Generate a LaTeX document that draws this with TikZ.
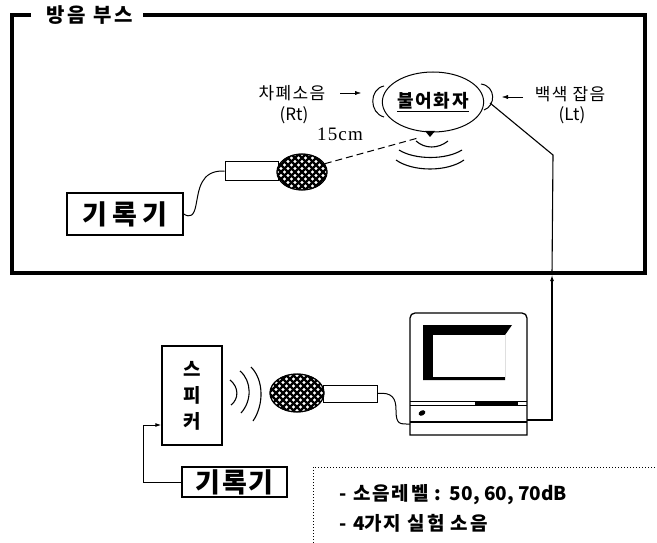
\documentclass[tikz,border=0pt]{standalone}
\usepackage{fontspec}
\newfontfamily\kr{Noto Sans CJK KR}
\newfontfamily\numfont{Liberation Serif}
\usetikzlibrary{arrows.meta,shapes.geometric}

% cross-hatched grille of a microphone head
\newcommand{\hatchmic}[3]{%
  \begin{scope}[shift={(#1.center)}]
    \clip (0,0) ellipse [x radius=#2, y radius=#3];
    \foreach \d in {-70,-63,...,70}{
      \draw[line width=2.3pt] (\d-30,-30) -- (\d+30,30);
      \draw[line width=2.3pt] (\d-30,30) -- (\d+30,-30);
    }
  \end{scope}}

\begin{document}
\begin{tikzpicture}[x=1pt,y=-1pt,
    booth/.style={line width=3.2pt},
    recbox/.style={draw, line width=1.4pt, inner sep=0pt,
      font=\kr\bfseries\fontsize{27}{27}\selectfont},
    lbl/.style={font=\kr\fontsize{17}{17}\selectfont},
    cond/.style={anchor=west, font=\kr\bfseries\fontsize{19}{19}\selectfont},
    handle/.style={draw, line width=1pt, inner sep=0pt},
    grille/.style={draw, ellipse, line width=1pt, inner sep=0pt},
    tip/.style={-{Latex[length=6pt,width=4pt]}},
    wave/.style={line width=1.1pt}]
  \useasboundingbox (0,0) rectangle (657,543);

  % Booth walls
  \draw[booth] (31,15) -- (12,15) -- (12,273) -- (645,273) -- (645,15) -- (143,15);
  \node[font=\kr\bfseries\fontsize{20}{20}\selectfont] (title) at (90,15)
    {\addfontfeatures{LetterSpace=14}방음 부스};

  % Speaker's head with ears
  \node[grille, minimum width=100, minimum height=60]
    (head) at (433,102) {\kr\bfseries\fontsize{18}{18}\selectfont\addfontfeatures{LetterSpace=10}\underline{불어화자}};
  \draw[line width=1pt] (384,86) .. controls (369,89) and (369,113) .. (384,117);
  \draw[line width=1pt] (481,84) .. controls (496,86) and (496,106) .. (484,110);
  \fill (425,131) -- (435,131) -- (430,137) -- cycle;
  \coordinate (mouth) at (418,138);

  % Voice waves
  \draw[wave] (416,141) .. controls (425,149) and (438,149) .. (448,141);
  \draw[wave] (399,150) .. controls (415,160) and (446,160) .. (462,150);
  \draw[wave] (396,160) .. controls (413,172) and (447,172) .. (464,160);

  % Noise labels
  \node[lbl] (rt) at (292,93) {\addfontfeatures{LetterSpace=8}차폐소음};
  \node[lbl] at (294,115) {(Rt)};
  \draw[tip] (340,93) -- (361,93);
  \node[lbl] (lt) at (570,94) {\addfontfeatures{LetterSpace=8}백색 잡음};
  \node[lbl] at (572,115) {(Lt)};
  \draw[tip] (523,97) -- (502,97);
  \node[font=\numfont\fontsize{19}{19}\selectfont] (dist) at (340,134)
    {\addfontfeatures{LetterSpace=6}15cm};

  % Microphone in the booth
  \node[handle, minimum width=53, minimum height=18] (hand1) at (251.5,171) {};
  \node[grille, fill=white, minimum width=50, minimum height=36] (mic1) at (302,172) {};
  \hatchmic{mic1}{25}{18}
  \draw[line width=1pt] (mic1) ellipse [x radius=25, y radius=18];
  \draw[line width=1pt, dashed, dash pattern=on 7pt off 4pt] (mic1.20) -- (mouth);

  % Recorder in the booth
  \node[recbox, minimum width=116, minimum height=42] (rec1) at (125,214)
    {\addfontfeatures{LetterSpace=20}기록기};
  \draw[line width=1pt] (hand1.west) .. controls (200,170) and (199,190) .. (196,205)
    .. controls (194,216) and (190,218) .. (rec1.east);

  % Computer
  \draw[line width=1.3pt] (410,435) [rounded corners=5pt] -- (410,313) -- (527,313)
    [sharp corners] -- (527,435) -- cycle;
  \fill (423,325) -- (512,325) -- (505,335) -- (505,380) -- (423,380) -- cycle;
  \fill[white] (433,335) rectangle (505,377);
  \draw[line width=1pt] (410,401) -- (527,401);
  \draw[line width=0.8pt] (410,405) -- (527,405);
  \fill (475,401) rectangle (518,406);
  \draw[line width=1.3pt] (410,422) -- (527,422);
  \fill[rotate around={30:(422,413)}] (422,413) ellipse [x radius=3.5, y radius=2.5];
  \coordinate (pcin) at (410,424);
  \coordinate (pcout) at (527,420);

  % Speaker and its recorder
  \node[draw, line width=1.4pt, minimum width=60, minimum height=99,
    font=\kr\bfseries\fontsize{19}{26}\selectfont, align=center]
    (spk) at (192,395.5) {스\\피\\커};
  \draw[wave] (230,380) .. controls (239,387) and (239,399) .. (231,405);
  \draw[wave] (240,371) .. controls (252,381) and (252,401) .. (241,413);
  \draw[wave] (251,367) .. controls (264,380) and (264,405) .. (253,421);
  \node[recbox, minimum width=105, minimum height=30] (rec2) at (234.5,482)
    {\addfontfeatures{LetterSpace=6}기록기};
  \draw[line width=1pt, tip] (rec2.west) -- (143,482) -- (143,425) -- (spk.west |- 0,425);

  % Microphone outside the booth
  \node[handle, minimum width=54, minimum height=17] (hand2) at (350,393.5) {};
  \node[grille, fill=white, minimum width=54, minimum height=38] (mic2) at (297,393) {};
  \hatchmic{mic2}{27}{19}
  \draw[line width=1pt] (mic2) ellipse [x radius=27, y radius=19];
  \draw[line width=1pt] (hand2.east) .. controls (392,392) and (396,398) .. (396,410)
    .. controls (396,425) and (400,424) .. (pcin);

  % Playback line into the booth
  \coordinate (entry) at (552,275);
  \coordinate (bend) at (553,155);
  \coordinate (ear) at (490,103);
  \draw[line width=1.1pt, tip] (pcout) -- (552,420) -- (entry);
  \draw[line width=1.1pt] (entry) -- (bend) -- (ear);

  % Test conditions
  \draw[line width=1pt, dotted] (313,543) -- (313,467) -- (657,467);
  \node[cond] (cond1) at (336,495)
    {{\addfontfeatures{LetterSpace=10}- 소음레벨 : }50, 60, 70dB};
  \node[cond] (cond2) at (336,523)
    {{\addfontfeatures{LetterSpace=10}- }4{\addfontfeatures{LetterSpace=10}가지 실험 소음}};
\end{tikzpicture}
\end{document}
